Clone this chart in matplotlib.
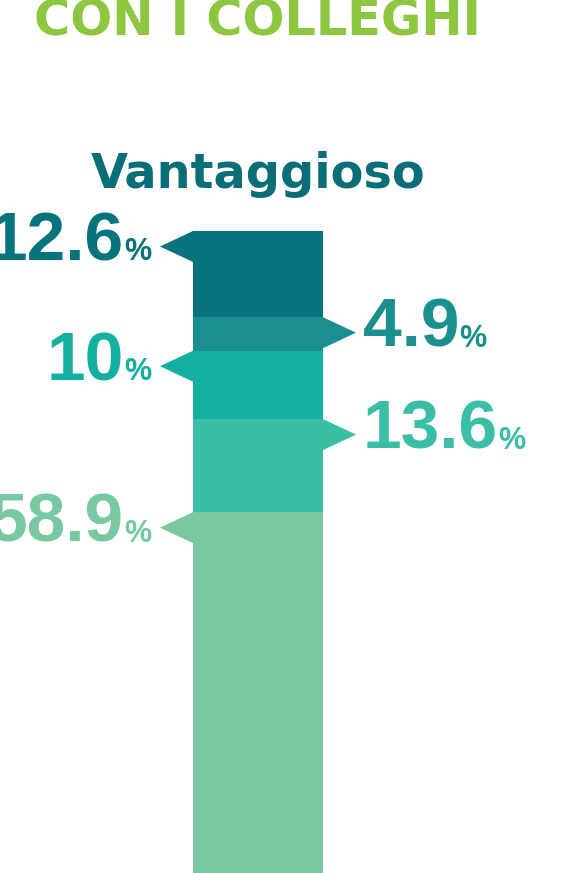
import matplotlib
matplotlib.use("Agg")
import matplotlib.pyplot as plt
from matplotlib.patches import Polygon

# --- data ---
title = "CON I COLLEGHI"
category = "Vantaggioso"
values = [12.6, 4.9, 10, 13.6, 58.9]
labels = ["12.6", "4.9", "10", "13.6", "58.9"]
sides = ["left", "right", "left", "right", "left"]
colors = ["#07737D", "#1A8F90", "#13B0A2", "#3ABEA5", "#78C9A1"]

W, H, DPI = 583, 873, 100
PX_PER_PCT = 6.84          # vertical scale of the bar
BAR_TOP_PX = 231
BAR_CX_PX, BAR_W_PX = 258, 130

fig = plt.figure(figsize=(W / DPI, H / DPI), dpi=DPI)
ax = fig.add_axes([0, 0, 1, 1])
ax.set_xlim(-BAR_CX_PX / BAR_W_PX, (W - BAR_CX_PX) / BAR_W_PX)
ax.set_ylim((H - BAR_TOP_PX) / PX_PER_PCT, -BAR_TOP_PX / PX_PER_PCT)
ax.axis("off")

num_font = dict(family="Liberation Sans", weight="bold")

# stacked bar
bottoms = [sum(values[:i]) for i in range(len(values))]
ax.bar([0] * len(values), values, bottom=bottoms, width=1.0, color=colors,
       linewidth=0)

arrow_h = 31 / PX_PER_PCT
arrow_w = 33 / BAR_W_PX
fig.canvas.draw()
renderer = fig.canvas.get_renderer()

for v, lab, side, col, b in zip(values, labels, sides, colors, bottoms):
    sgn = -1 if side == "left" else 1
    edge = sgn * 0.5
    tip = edge + sgn * arrow_w
    ax.add_patch(Polygon([(edge, b), (tip, b + arrow_h / 2), (edge, b + arrow_h)],
                         closed=True, color=col, lw=0))
    base_y = b + arrow_h / 2 + 14 / PX_PER_PCT
    if side == "left":
        x0 = tip - 9 / BAR_W_PX
        pct = ax.text(x0, base_y, "%", fontsize=22, color=col, ha="right",
                      va="baseline", **num_font)
        bb = pct.get_window_extent(renderer)
        xl = ax.transData.inverted().transform((bb.x0, bb.y0))[0]
        ax.text(xl, base_y, lab, fontsize=50, color=col, ha="right",
                va="baseline", **num_font)
    else:
        x0 = tip + 7 / BAR_W_PX
        num = ax.text(x0, base_y, lab, fontsize=50, color=col, ha="left",
                      va="baseline", **num_font)
        bb = num.get_window_extent(renderer)
        xr = ax.transData.inverted().transform((bb.x1, bb.y0))[0]
        ax.text(xr, base_y, "%", fontsize=22, color=col, ha="left",
                va="baseline", **num_font)

# headings
ax.text(0, -(BAR_TOP_PX - 188) / PX_PER_PCT, category, fontsize=34.5,
        color="#0A6E78", ha="center", va="baseline", family="DejaVu Sans",
        weight="bold")
fig.text(0.441, 1 - 36 / H, title, fontsize=35.6, color="#8DC63F",
         ha="center", va="baseline", family="DejaVu Sans", weight="bold")

fig.savefig("out.png", dpi=DPI)
